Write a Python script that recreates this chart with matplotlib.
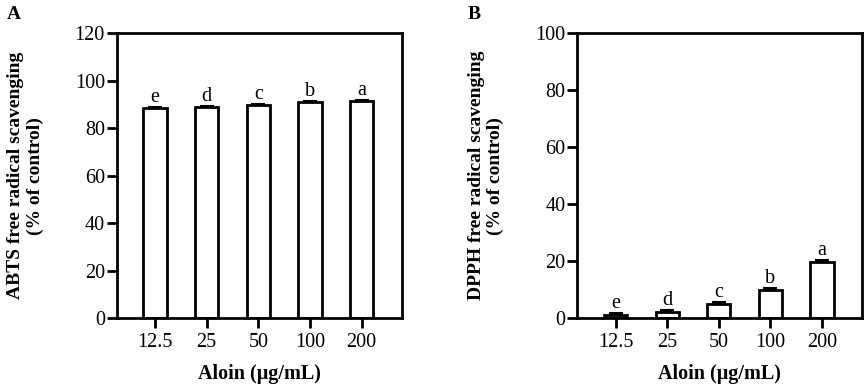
import matplotlib
matplotlib.use("Agg")
import matplotlib.pyplot as plt
import numpy as np

plt.rcParams['font.family'] = ['Liberation Serif', 'DejaVu Serif']

categories = ["12.5", "25", "50", "100", "200"]
abts_values = [88.7, 89.0, 89.9, 91.0, 91.7]
abts_errors = [0.4, 0.4, 0.4, 0.5, 0.4]
dpph_values = [1.2, 2.1, 4.9, 9.7, 19.6]
dpph_errors = [0.5, 0.7, 0.8, 0.9, 0.7]
letters = ["e", "d", "c", "b", "a"]

fig = plt.figure(figsize=(8.65, 3.84), dpi=100)

def make_panel(rect, values, errors, ymax, ystep, ylabel, panel_letter, letter_pos):
    ax = fig.add_axes(rect)
    x = np.arange(len(categories))
    ax.bar(x, values, width=0.45, color='white', edgecolor='black', linewidth=2.0, zorder=2)
    ax.errorbar(x, values, yerr=[np.zeros(len(errors)), errors], fmt='none', ecolor='black',
                elinewidth=1.5, capsize=5, capthick=1.5, zorder=3)
    for xi, v, e, l in zip(x, values, errors, letters):
        ax.text(xi, v + e, l, ha='center', va='bottom', fontsize=14.5)
    ax.set_xlim(-0.74, 4.78)
    ax.set_ylim(0, ymax)
    ax.set_yticks(np.arange(0, ymax + 1, ystep))
    ax.set_xticks(x)
    ax.set_xticklabels(categories)
    for s in ax.spines.values():
        s.set_linewidth(2.0)
    ax.tick_params(axis='both', direction='out', length=7, width=2.0, labelsize=14.5)
    ax.tick_params(axis='y', pad=1.5)
    ax.tick_params(axis='x', pad=4)
    ax.set_ylabel(ylabel, fontsize=14, fontweight='bold', linespacing=1.15)
    ax.yaxis.set_label_coords(-0.256, 0.5)
    ax.set_xlabel("Aloin (μg/mL)", fontsize=14.5, fontweight='bold')
    ax.xaxis.set_label_coords(0.5, -0.16)
    fig.text(letter_pos[0], letter_pos[1], panel_letter, fontsize=14, fontweight='bold', ha='left', va='top')
    return ax

make_panel([0.1349, 0.1719, 0.3298, 0.7409], abts_values, abts_errors, 120, 20,
           "ABTS free radical scavenging\n(% of control)", "A", (0.008, 0.985))
make_panel([0.6674, 0.1719, 0.3295, 0.7409], dpph_values, dpph_errors, 100, 20,
           "DPPH free radical scavenging\n(% of control)", "B", (0.541, 0.985))

fig.savefig("out.png", dpi=100)
